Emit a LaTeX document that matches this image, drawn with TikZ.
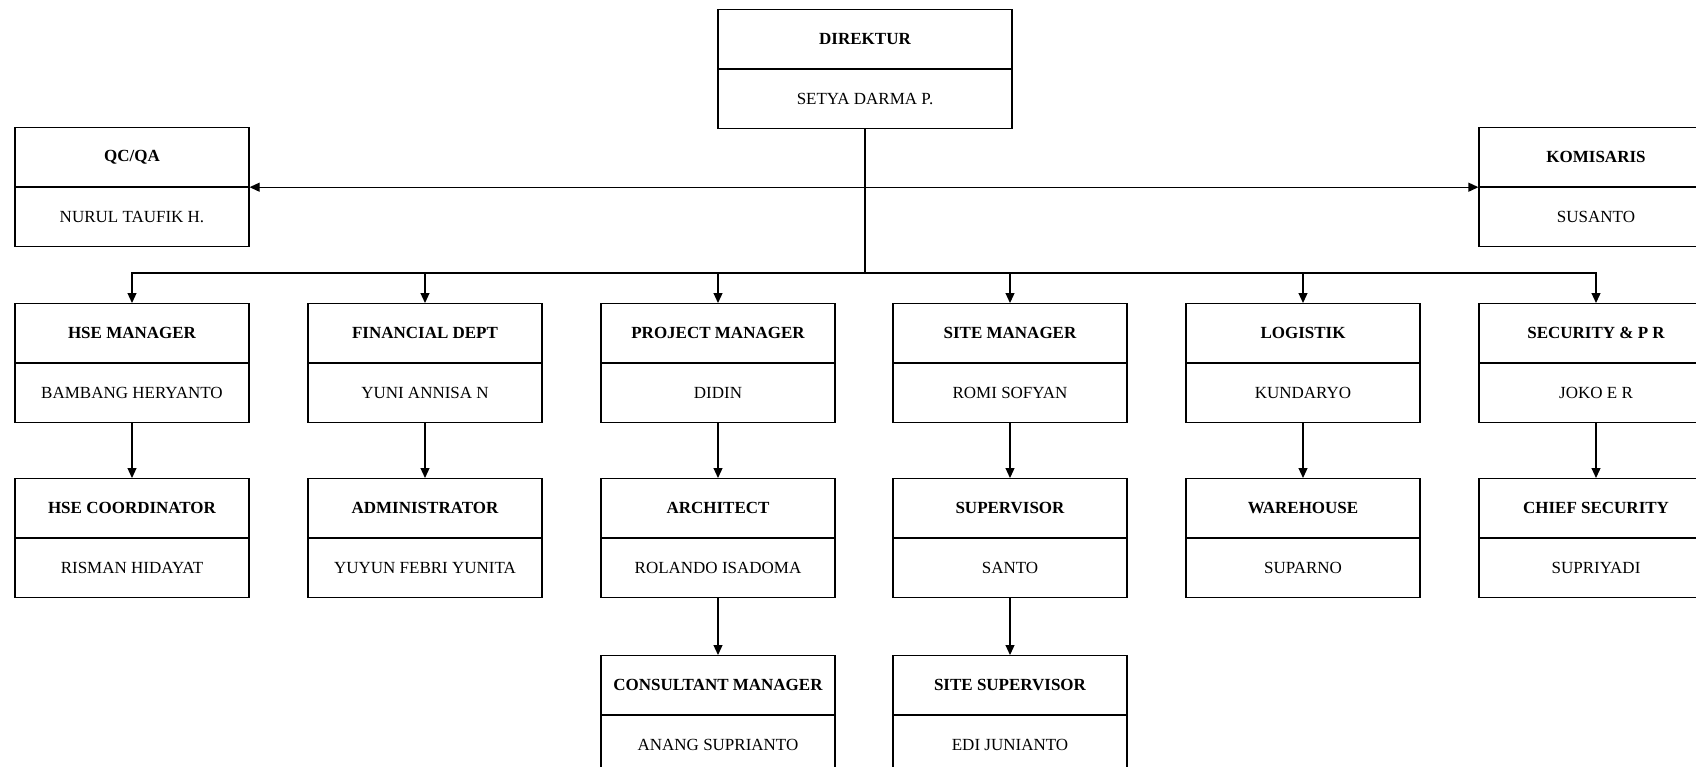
\documentclass[tikz,border=0pt]{standalone}
\usepackage{fontspec}
\setmainfont{Liberation Serif}
\usetikzlibrary{positioning}
\usetikzlibrary{arrows.meta}

\tikzset{
 ttl/.style={draw, line width=1.2pt, minimum width=234pt, minimum height=59pt, inner sep=0pt, font=\fontsize{17}{20}\selectfont\bfseries, anchor=north},
 nme/.style={draw, line width=1.2pt, minimum width=234pt, minimum height=59pt, inner sep=0pt, font=\fontsize{17}{20}\selectfont},
 link/.style={line width=1.2pt, -{Triangle[length=10pt,width=9pt]}},
}

\begin{document}
\begin{tikzpicture}[x=1pt,y=-1pt]
\useasboundingbox (0,0) rectangle (1696,767);
% top row
\node[ttl, minimum width=294pt] (dir) at (865,9) {DIREKTUR};
\node[nme, minimum width=294pt, below=0pt of dir] (dirn) {SETYA DARMA P.};
\node[ttl] (qc) at (132,127) {QC/QA};
\node[nme, below=0pt of qc] (qcn) {NURUL TAUFIK H.};
\node[ttl] (kom) at (1596,127) {KOMISARIS};
\node[nme, below=0pt of kom] (komn) {SUSANTO};
\coordinate (mid) at (dirn.south |- qc.south);
\coordinate (bus) at (865,273);
\draw[line width=1.2pt] (dirn.south) -- (bus);
\draw[link] (mid) -- (qc.south east);
\draw[link] (mid) -- (kom.south west);
% managers and staff
\foreach \i/\x/\ta/\na/\tb/\nb in {1/132/HSE MANAGER/BAMBANG HERYANTO/HSE COORDINATOR/RISMAN HIDAYAT,
 2/425/FINANCIAL DEPT/YUNI ANNISA N/ADMINISTRATOR/YUYUN FEBRI YUNITA,
 3/718/PROJECT MANAGER/DIDIN/ARCHITECT/ROLANDO ISADOMA,
 4/1010/SITE MANAGER/ROMI SOFYAN/SUPERVISOR/SANTO,
 5/1303/LOGISTIK/KUNDARYO/WAREHOUSE/SUPARNO,
 6/1596/SECURITY \& P R/JOKO E R/CHIEF SECURITY/SUPRIYADI} {
 \node[ttl] (m\i) at (\x,303) {\ta};
 \node[nme, below=0pt of m\i] (mn\i) {\na};
 \node[ttl] (s\i) at (\x,478) {\tb};
 \node[nme, below=0pt of s\i] (sn\i) {\nb};
 \draw[link] (bus) -| (m\i);
 \draw[link] (mn\i) -- (s\i);
}
% bottom row
\node[ttl] (cm) at (718,655) {CONSULTANT MANAGER};
\node[nme, below=0pt of cm] (cmn) {ANANG SUPRIANTO};
\node[ttl] (ss) at (1010,655) {SITE SUPERVISOR};
\node[nme, below=0pt of ss] (ssn) {EDI JUNIANTO};
\draw[link] (sn3) -- (cm);
\draw[link] (sn4) -- (ss);
\end{tikzpicture}
\end{document}
